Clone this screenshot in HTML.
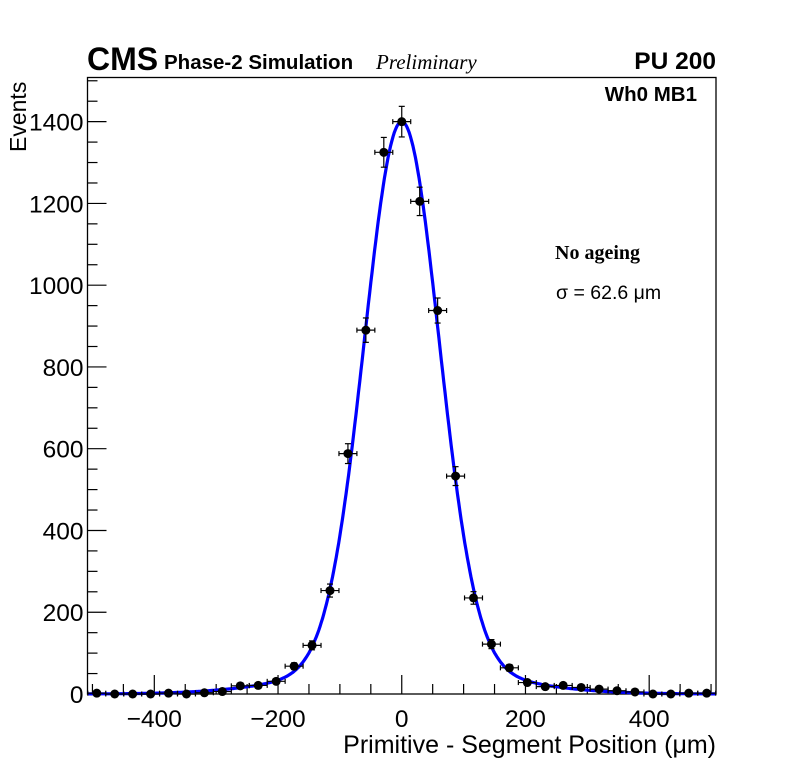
<!DOCTYPE html>
<html><head><meta charset="utf-8"><style>
body{margin:0;background:#fff;}
svg text{font-family:"Liberation Sans",sans-serif;}
</style></head><body>
<svg id="chart" width="796" height="772" xmlns="http://www.w3.org/2000/svg">
<rect width="796" height="772" fill="#fff"/>
<g id="axes"></g>
<g id="marks"></g>
<text x="87" y="70" font-size="32" font-weight="bold">CMS</text>
<text x="164" y="69" font-size="20.5" font-weight="bold">Phase-2 Simulation</text>
<text x="376" y="69" font-size="21" font-style="italic" style="font-family:'Liberation Serif',serif">Preliminary</text>
<text x="716" y="69" font-size="24.5" font-weight="bold" text-anchor="end">PU 200</text>
<text x="697" y="101" font-size="20.5" font-weight="bold" text-anchor="end">Wh0 MB1</text>
<text x="555" y="259" font-size="20" font-weight="bold" style="font-family:'Liberation Serif',serif">No ageing</text>
<text x="556" y="299" font-size="19.5">σ = 62.6 μm</text>
<text x="716" y="753" font-size="25" text-anchor="end">Primitive - Segment Position (μm)</text>
<text transform="translate(26,152) rotate(-90)" font-size="23">Events</text>
</svg>
<script>
const binCenters = [-493,-464,-435,-406,-377,-348,-319,-290,-261,-232,-203,-174,-145,-116,-87,-58,-29,0,29,58,87,116,145,174,203,232,261,290,319,348,377,406,435,464,493];
const counts = [2,0,0,0,2,0,3,6,20,21,31,68,119,253,588,890,1325,1400,1205,938,533,235,122,64,28,18,21,16,12,8,5,0,0,2,2];
const xTicks = [-400,-200,0,200,400];
const yTicks = [0,200,400,600,800,1000,1200,1400];
const fitAmps = [1330,70];
const fitSigmas = [60,150];
const binWidth = 29;
const L=87.5,R=716,T=77.5,B=694;
const xMin=-508,xMax=508,yMin=0,yMax=1508;
const X=v=>L+(v-xMin)/(xMax-xMin)*(R-L);
const Y=v=>B-(v-yMin)/(yMax-yMin)*(B-T);
const NS="http://www.w3.org/2000/svg";
function mk(tag,attrs,parent){const e=document.createElementNS(NS,tag);for(const k in attrs)e.setAttribute(k,attrs[k]);parent.appendChild(e);return e;}
const axes=document.getElementById('axes'),marks=document.getElementById('marks');
const frame=mk('rect',{x:L,y:T,width:R-L,height:B-T,fill:'none',stroke:'#000','stroke-width':1.3},axes);


for(let v=-500;v<=500;v+=50){const maj=v%200===0;const t=mk('line',{x1:X(v),x2:X(v),y1:B,y2:B-(maj?19:10),stroke:'#000','stroke-width':1.2},axes);

}
xTicks.forEach(v=>{const t=mk('text',{x:X(v),y:B+33,'font-size':24.5,'text-anchor':'middle'},axes);t.textContent=(v<0?'\u2212'+(-v):v);

});
for(let v=0;v<=1500;v+=50){const maj=v%200===0;const t=mk('line',{x1:L,x2:L+(maj?19:10),y1:Y(v),y2:Y(v),stroke:'#000','stroke-width':1.2},axes);

}
yTicks.forEach(v=>{const t=mk('text',{x:L-4,y:Y(v)+9,'font-size':24.5,'text-anchor':'end'},axes);t.textContent=v;

});
let d='';for(let x=xMin;x<=xMax;x+=2){let y=0;for(let i=0;i<fitAmps.length;i++)y+=fitAmps[i]*Math.exp(-x*x/(2*fitSigmas[i]*fitSigmas[i]));d+=(d?'L':'M')+X(x).toFixed(1)+','+Y(y).toFixed(1);}
const fit=mk('path',{d:d,fill:'none',stroke:'#0000ff','stroke-width':3.2},marks);


binCenters.forEach((c,i)=>{const n=counts[i];const e=Math.sqrt(n);const g=mk('g',{},marks);


mk('line',{x1:X(c-binWidth/2),x2:X(c+binWidth/2),y1:Y(n),y2:Y(n),stroke:'#000','stroke-width':1.2},g);
mk('line',{x1:X(c),x2:X(c),y1:Y(n-e),y2:Y(n+e),stroke:'#000','stroke-width':1.2},g);
[c-binWidth/2,c+binWidth/2].forEach(xx=>mk('line',{x1:X(xx),x2:X(xx),y1:Y(n)-2.5,y2:Y(n)+2.5,stroke:'#000','stroke-width':1.2},g));
[n-e,n+e].forEach(yy=>{if(e>0)mk('line',{x1:X(c)-3,x2:X(c)+3,y1:Y(yy),y2:Y(yy),stroke:'#000','stroke-width':1.2},g);});
mk('circle',{cx:X(c),cy:Y(n),r:4.5,fill:'#000'},g);});
</script>
</body></html>
